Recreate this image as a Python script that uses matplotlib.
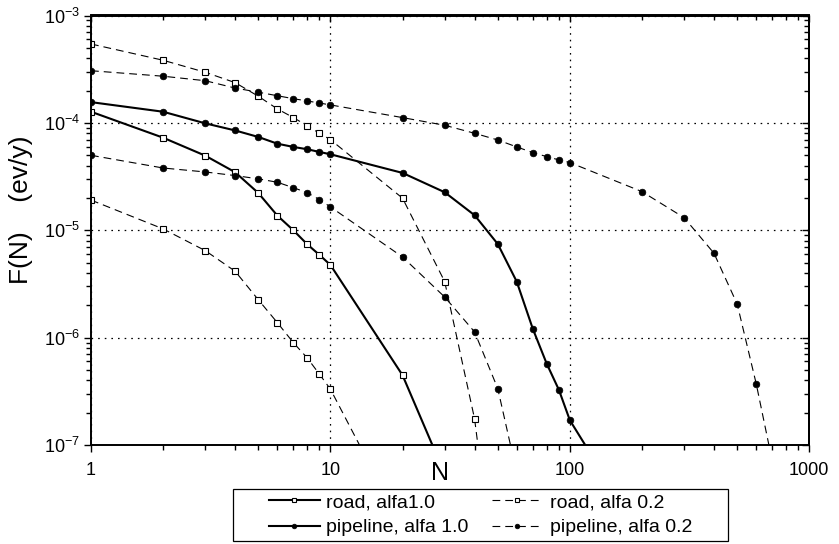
import matplotlib
matplotlib.use("Agg")
import matplotlib.pyplot as plt
from matplotlib.patches import Rectangle
from matplotlib.ticker import LogLocator, StrMethodFormatter, NullFormatter

plt.rcParams["font.family"] = ["Liberation Sans", "DejaVu Sans"]

# Event frequency F(N) vs number of fatalities N
n_road_10 = [1, 2, 3, 4, 5, 6, 7, 8, 9, 10, 20, 30]
f_road_10 = [1.27e-4, 7.28e-5, 4.95e-5, 3.47e-5, 2.22e-5, 1.37e-5, 1.0e-5,
             7.4e-6, 5.89e-6, 4.75e-6, 4.47e-7, 5.4e-8]

n_road_02a = [1, 2, 3, 4, 5, 6, 7, 8, 9, 10, 20, 30, 40, 50]
f_road_02a = [5.43e-4, 3.83e-4, 2.96e-4, 2.37e-4, 1.77e-4, 1.35e-4, 1.12e-4,
              9.4e-5, 8.0e-5, 6.98e-5, 1.99e-5, 3.33e-6, 1.75e-7, 3.5e-9]

n_road_02b = [1, 2, 3, 4, 5, 6, 7, 8, 9, 10, 20]
f_road_02b = [1.91e-5, 1.03e-5, 6.46e-6, 4.15e-6, 2.25e-6, 1.38e-6, 8.98e-7,
              6.47e-7, 4.56e-7, 3.31e-7, 1.7e-8]

n_pipe_10 = [1, 2, 3, 4, 5, 6, 7, 8, 9, 10, 20, 30, 40, 50, 60, 70, 80, 90, 100, 200]
f_pipe_10 = [1.56e-4, 1.27e-4, 9.9e-5, 8.5e-5, 7.39e-5, 6.4e-5, 5.97e-5, 5.68e-5,
             5.36e-5, 5.1e-5, 3.42e-5, 2.26e-5, 1.38e-5, 7.44e-6, 3.32e-6,
             1.21e-6, 5.73e-7, 3.26e-7, 1.7e-7, 1.4e-8]

n_pipe_02a = [1, 2, 3, 4, 5, 6, 7, 8, 9, 10, 20, 30, 40, 50, 60, 70, 80, 90, 100,
              200, 300, 400, 500, 600, 700]
f_pipe_02a = [3.06e-4, 2.72e-4, 2.47e-4, 2.11e-4, 1.93e-4, 1.79e-4, 1.68e-4, 1.6e-4,
              1.53e-4, 1.47e-4, 1.12e-4, 9.5e-5, 8.0e-5, 6.93e-5, 5.97e-5, 5.29e-5,
              4.85e-5, 4.52e-5, 4.27e-5, 2.29e-5, 1.31e-5, 6.1e-6, 2.05e-6,
              3.73e-7, 7.1e-8]

n_pipe_02b = [1, 2, 3, 4, 5, 6, 7, 8, 9, 10, 20, 30, 40, 50, 60]
f_pipe_02b = [4.99e-5, 3.8e-5, 3.49e-5, 3.23e-5, 3.01e-5, 2.8e-5, 2.49e-5, 2.24e-5,
              1.93e-5, 1.65e-5, 5.64e-6, 2.39e-6, 1.13e-6, 3.35e-7, 5.5e-8]

fig = plt.figure(figsize=(8.39, 5.44), dpi=100)
W, H = 839, 544
ax = fig.add_axes([91 / W, 1 - 445 / H, (809.3 - 91) / W, (445 - 15.5) / H])

solid = dict(color="black", lw=1.5, linestyle="-")
dashed = dict(color="black", lw=0.8, linestyle=(0, (7, 4.5)))
sq = dict(marker="s", markersize=4.2, markerfacecolor="white",
          markeredgecolor="black", markeredgewidth=0.8)
dot = dict(marker="o", markersize=4.8, markerfacecolor="black",
           markeredgecolor="black", markeredgewidth=0.5)

h1, = ax.plot(n_road_10, f_road_10, label="road, alfa1.0", **solid, **sq)
h3, = ax.plot(n_road_02a, f_road_02a, label="road, alfa 0.2", **dashed, **sq)
ax.plot(n_road_02b, f_road_02b, **dashed, **sq)
h2, = ax.plot(n_pipe_10, f_pipe_10, label="pipeline, alfa 1.0", **solid, **dot)
h4, = ax.plot(n_pipe_02a, f_pipe_02a, label="pipeline, alfa 0.2", **dashed, **dot)
ax.plot(n_pipe_02b, f_pipe_02b, **dashed, **dot)

ax.set_xscale("log")
ax.set_yscale("log")
ax.set_xlim(1, 1000)
ax.set_ylim(1e-7, 1e-3)

ax.xaxis.set_major_locator(LogLocator(base=10, numticks=10))
ax.xaxis.set_minor_locator(LogLocator(base=10, subs=range(2, 10), numticks=20))
ax.xaxis.set_major_formatter(StrMethodFormatter("{x:g}"))
ax.xaxis.set_minor_formatter(NullFormatter())
ax.yaxis.set_minor_locator(LogLocator(base=10, subs=range(2, 10), numticks=20))
ax.yaxis.set_minor_formatter(NullFormatter())

ax.grid(which="major", color="black", lw=0.9, linestyle=(0, (1.3, 4)))
ax.set_axisbelow(True)

for s in ax.spines.values():
    s.set_linewidth(1.4)

ax.tick_params(which="both", direction="out", top=False, right=False,
               width=1.0, labelsize=13)
ax.tick_params(which="major", length=5)
ax.tick_params(which="minor", length=3.5)
ax.tick_params(axis="x", which="major", pad=7)
ax.tick_params(axis="y", which="major", pad=3)

# mirrored axes on top and right with inward ticks
top = ax.secondary_xaxis("top")
top.set_xscale("log")
top.xaxis.set_major_locator(LogLocator(base=10, numticks=10))
top.xaxis.set_minor_locator(LogLocator(base=10, subs=range(2, 10), numticks=20))
top.tick_params(which="both", direction="in", labeltop=False, width=1.0)
top.tick_params(which="major", length=5)
top.tick_params(which="minor", length=3.5)
top.spines["top"].set_linewidth(1.4)

right = ax.secondary_yaxis("right")
right.set_yscale("log")
right.yaxis.set_minor_locator(LogLocator(base=10, subs=range(2, 10), numticks=20))
right.tick_params(which="both", direction="in", labelright=False, width=1.0)
right.tick_params(which="major", length=5)
right.tick_params(which="minor", length=3.5)
right.spines["right"].set_linewidth(1.4)

ax.set_xlabel("N", fontsize=18)
ax.xaxis.set_label_coords((440 - 91) / (809.3 - 91), -0.038)
ax.set_ylabel("F(N)    (ev/y)", fontsize=19)
ax.yaxis.set_label_coords(-0.081, 0.547)

# legend below the plot, framed by a plain box
fig.patches.append(Rectangle((233 / W, 1 - 541 / H), (728 - 233) / W, (541 - 489) / H,
                             transform=fig.transFigure, fill=False,
                             edgecolor="black", lw=0.9))
fig.legend(handles=[h1, h2, h3, h4], ncol=2, frameon=False, loc="center",
           bbox_to_anchor=(480.5 / W, 1 - 515 / H), fontsize=14,
           handlelength=2.6, handletextpad=0.35, columnspacing=1.2,
           labelspacing=0.4, markerscale=0.7, numpoints=1,
           borderpad=0.2)

fig.savefig("out.png", dpi=100)
